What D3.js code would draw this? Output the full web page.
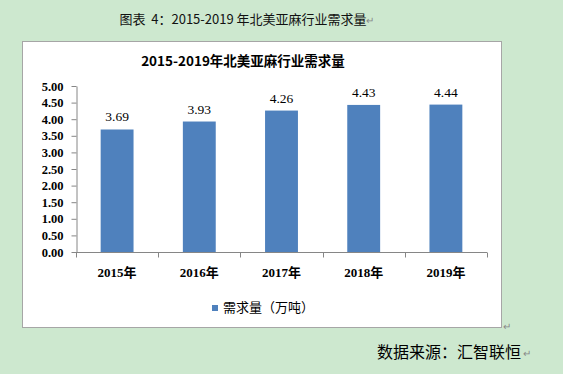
<!DOCTYPE html>
<html>
<head>
<meta charset="utf-8">
<script src="https://cdn.jsdelivr.net/npm/d3@7"></script>
<style>
  body { margin: 0; background: #cde8cf; }
  svg { display: block; }
</style>
</head>
<body>
<svg id="chart"></svg>
<script>
var width = 563, height = 374;

// data
var years = ["2015年", "2016年", "2017年", "2018年", "2019年"];
var demand = [3.69, 3.93, 4.26, 4.43, 4.44];
var yTicks = [0, 0.5, 1, 1.5, 2, 2.5, 3, 3.5, 4, 4.5, 5];
var seriesName = "需求量（万吨）";

var cjk = "'Noto Sans CJK SC', sans-serif";
var num = "'Liberation Serif', 'DejaVu Serif', serif";
var barColor = "#4f81bd";

var svg = d3.select("#chart")
    .attr("width", width)
    .attr("height", height);

// caption above the chart
svg.append("text")
    .attr("x", 243)
    .attr("y", 24)
    .attr("text-anchor", "middle")
    .style("font-family", cjk)
    .style("font-size", "13px")
    .style("white-space", "pre")
    .attr("fill", "#111")
    .text("图表  4：2015-2019 年北美亚麻行业需求量");
svg.append("text")
    .attr("x", 366)
    .attr("y", 24)
    .style("font-size", "10px")
    .attr("fill", "#888")
    .text("↵");

// chart box
svg.append("rect")
    .attr("x", 22.5)
    .attr("y", 41.5)
    .attr("width", 479)
    .attr("height", 286)
    .attr("fill", "white")
    .attr("stroke", "#a6a6a6");
svg.append("text")
    .attr("x", 503)
    .attr("y", 330)
    .style("font-size", "10px")
    .attr("fill", "#888")
    .text("↵");

// chart title
svg.append("text")
    .attr("x", 243)
    .attr("y", 66)
    .attr("text-anchor", "middle")
    .style("font-family", cjk)
    .style("font-size", "13.5px")
    .style("font-weight", "bold")
    .attr("fill", "#000")
    .text("2015-2019年北美亚麻行业需求量");

var x = d3.scaleBand()
    .domain(years)
    .range([76, 487])
    .paddingInner(0.6)
    .paddingOuter(0.3);

var y = d3.scaleLinear()
    .domain([0, 5])
    .range([252, 86]);

// y axis
var yAxis = svg.append("g")
    .attr("transform", "translate(76.5,0)")
    .call(d3.axisLeft(y).tickValues(yTicks).tickFormat(d3.format(".2f")).tickSize(5).tickSizeOuter(0));
yAxis.select(".domain").attr("stroke", "#868686");
yAxis.selectAll(".tick line").attr("stroke", "#868686");
yAxis.selectAll("text")
    .attr("x", -13)
    .style("font-family", num)
    .style("font-size", "12.5px")
    .style("font-weight", "bold")
    .attr("fill", "#000");

// x axis: ticks between categories
var bounds = d3.range(years.length + 1).map(i => 76 + i * x.step());
var xg = svg.append("g").attr("transform", "translate(0,252.5)");
xg.append("line")
    .attr("x1", 76).attr("x2", 487)
    .attr("stroke", "#868686");
xg.selectAll(".xt")
    .data(bounds)
    .enter()
    .append("line")
      .attr("x1", d => Math.round(d) + 0.5)
      .attr("x2", d => Math.round(d) + 0.5)
      .attr("y1", 0)
      .attr("y2", 5)
      .attr("stroke", "#868686");

svg.selectAll(".xlabel")
    .data(years)
    .enter()
    .append("text")
      .attr("x", d => x(d) + x.bandwidth() / 2)
      .attr("y", 277)
      .attr("text-anchor", "middle")
      .style("font-family", num + ", " + cjk)
      .style("font-size", "13px")
      .style("font-weight", "bold")
      .attr("fill", "#000")
      .text(d => d);

// bars
svg.selectAll(".bar")
    .data(demand)
    .enter()
    .append("rect")
      .attr("x", (d, i) => x(years[i]))
      .attr("y", d => y(d))
      .attr("width", x.bandwidth())
      .attr("height", d => y(0) - y(d))
      .attr("fill", barColor);

// value labels
svg.selectAll(".val")
    .data(demand)
    .enter()
    .append("text")
      .attr("x", (d, i) => x(years[i]) + x.bandwidth() / 2)
      .attr("y", d => y(d) - 8)
      .attr("text-anchor", "middle")
      .style("font-family", num)
      .style("font-size", "13.5px")
      .attr("fill", "#000")
      .text(d => d.toFixed(2));

// legend
svg.append("rect")
    .attr("x", 212)
    .attr("y", 305)
    .attr("width", 6)
    .attr("height", 6)
    .attr("fill", barColor);
svg.append("text")
    .attr("x", 223)
    .attr("y", 312)
    .style("font-family", cjk)
    .style("font-size", "13px")
    .attr("fill", "#000")
    .text(seriesName);

// source note
svg.append("text")
    .attr("x", 377)
    .attr("y", 358)
    .style("font-family", cjk)
    .style("font-size", "16px")
    .attr("fill", "#000")
    .text("数据来源：汇智联恒");
svg.append("text")
    .attr("x", 523)
    .attr("y", 357)
    .style("font-size", "10px")
    .attr("fill", "#888")
    .text("↵");
</script>
</body>
</html>
